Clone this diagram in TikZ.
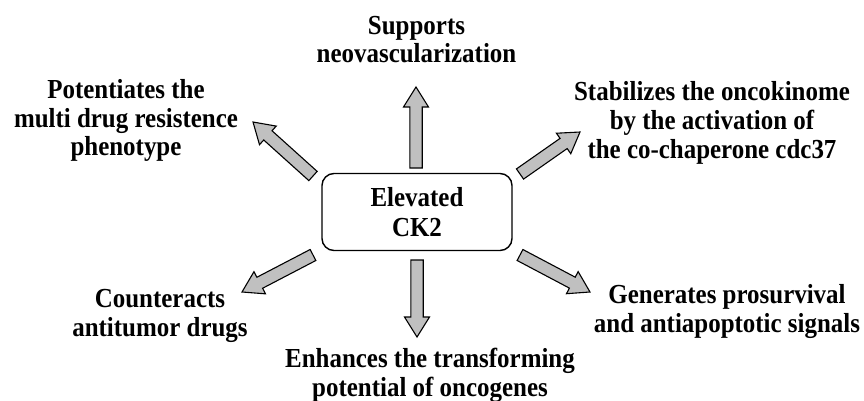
\documentclass[tikz,border=0pt]{standalone}
\usepackage{fontspec}
\setmainfont{Liberation Serif}[FakeStretch=0.907]
\usetikzlibrary{calc}
\definecolor{arrowgray}{RGB}{192,192,192}
\tikzset{
  lbl/.style={align=center, inner sep=0pt, anchor=north, font=\fontsize{27.5pt}{28.8pt}\selectfont\bfseries},
  centerbox/.style={draw, line width=1.4pt, rounded corners=12pt, minimum width=190pt, minimum height=77pt, inner sep=0pt, align=center, font=\fontsize{27.5pt}{30pt}\selectfont\bfseries},
  fatarrow/.style={draw, line width=1.1pt, fill=arrowgray, line join=miter}
}
\newcommand\fatarrow[2]{%
  \path[fatarrow] let \p1=($(#2)-(#1)$), \n1={atan2(\y1,\x1)}, \n2={veclen(\x1,\y1)} in
    [shift={(#1)}, rotate=\n1]
    (0pt,-6.2pt) -- (\n2-20pt,-6.2pt) -- (\n2-20pt,-12.5pt) -- (\n2,0pt) --
    (\n2-20pt,12.5pt) -- (\n2-20pt,6.2pt) -- (0pt,6.2pt) -- cycle;}
\begin{document}
\begin{tikzpicture}[x=1pt,y=-1pt]
\useasboundingbox (0,0) rectangle (864,401);
\node[centerbox] (ck2) at (417,212) {Elevated\\CK2};

\node[lbl] (neo) at (416.5,15.7) {Supports\\neovascularization};
\node[lbl] (mdr) at (126,79.1) {Potentiates the\\multi drug resistence\\phenotype};
\node[lbl] (stab) at (712,81.6) {Stabilizes the oncokinome\\by the activation of\\the co-chaperone cdc37};
\node[lbl] (counter) at (160,289) {Counteracts\\antitumor drugs};
\node[lbl] (enh) at (430,348.1) {Enhances the transforming\\potential of oncogenes};
\node[lbl] (gen) at (727,284.1) {Generates prosurvival\\and antiapoptotic signals};

\coordinate (tU) at (416,168);   \coordinate (pU) at (416,87);
\coordinate (tD) at (417,260);   \coordinate (pD) at (417,337);
\coordinate (tUL) at (313,176);  \coordinate (pUL) at (253,122);
\coordinate (tUR) at (520,174);  \coordinate (pUR) at (580,132);
\coordinate (tLL) at (313,255);  \coordinate (pLL) at (242,292);
\coordinate (tLR) at (520,255);  \coordinate (pLR) at (590,292);

\fatarrow{tU}{pU}
\fatarrow{tD}{pD}
\fatarrow{tUL}{pUL}
\fatarrow{tUR}{pUR}
\fatarrow{tLL}{pLL}
\fatarrow{tLR}{pLR}
\end{tikzpicture}
\end{document}
